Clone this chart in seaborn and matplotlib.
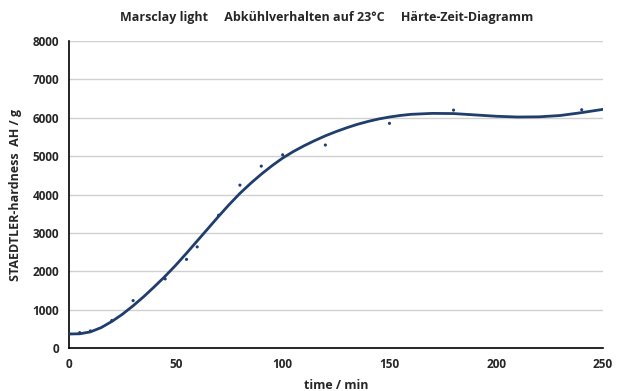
import pandas as pd
import matplotlib.pyplot as plt
import seaborn as sns

# measured hardness over cooling time
time_min = [0, 5, 10, 20, 30, 45, 55, 60, 70, 80, 90, 100, 120, 150, 180, 240]
hardness = [380, 400, 445, 715, 1235, 1800, 2310, 2635, 3460, 4245, 4740, 5035, 5290, 5855, 6200, 6210]

# trendline, every 5 min
trend_time = [0, 5, 10, 15, 20, 25, 30, 35, 40, 45, 50, 55, 60, 65, 70, 75, 80, 85,
              90, 95, 100, 105, 110, 115, 120, 125, 130, 135, 140, 145, 150, 155, 160,
              170, 180, 190, 200, 210, 220, 230, 240, 250]
trend_hardness = [365, 370, 420, 530, 690, 880, 1100, 1340, 1600, 1870, 2160, 2470, 2790,
                  3110, 3430, 3740, 4030, 4290, 4530, 4750, 4950, 5120, 5270, 5405, 5530,
                  5640, 5740, 5830, 5905, 5970, 6020, 6060, 6090, 6115, 6110, 6075, 6040,
                  6020, 6025, 6060, 6135, 6220]

df = pd.DataFrame({'time': time_min, 'hardness': hardness})
trend = pd.DataFrame({'time': trend_time, 'hardness': trend_hardness})

sns.set_style('white')
plt.rcParams['font.family'] = ['Open Sans', 'DejaVu Sans']

fig = plt.figure(figsize=(6.23, 3.91), dpi=100)
ax = fig.add_axes([0.1108, 0.110, 0.8572, 0.785])

navy = '#1F3E6B'
sns.lineplot(data=trend, x='time', y='hardness', ax=ax, color=navy, lw=2.0,
             zorder=3, solid_joinstyle='round', solid_capstyle='round')
sns.scatterplot(data=df, x='time', y='hardness', ax=ax, color=navy, s=5,
                edgecolor='none', zorder=4)

ax.set_xlim(0, 250)
ax.set_ylim(0, 8000)
ax.set_xticks(range(0, 251, 50))
ax.set_yticks(range(0, 8001, 1000))
ax.yaxis.grid(True, color='#D0D0D0', lw=1)
ax.set_axisbelow(True)

for side in ['top', 'right']:
    ax.spines[side].set_visible(False)
for side in ['left', 'bottom']:
    ax.spines[side].set_color('black')
    ax.spines[side].set_linewidth(1.2)

ax.tick_params(axis='both', direction='out', length=4, width=1, color='black',
               labelsize=8.5, pad=3)
for lab in ax.get_xticklabels() + ax.get_yticklabels():
    lab.set_fontweight('bold')

ax.set_xlabel('time / min', fontsize=9, fontweight='bold', labelpad=6)
ax.set_ylabel('STAEDTLER-hardness  AH / g', fontsize=9, fontweight='bold', labelpad=8)

fig.text(0.525, 0.955, 'Marsclay light     Abkühlverhalten auf 23°C     Härte-Zeit-Diagramm',
         ha='center', va='center', fontsize=9, fontweight='bold')

fig.savefig('out.png', dpi=100)
plt.close(fig)
